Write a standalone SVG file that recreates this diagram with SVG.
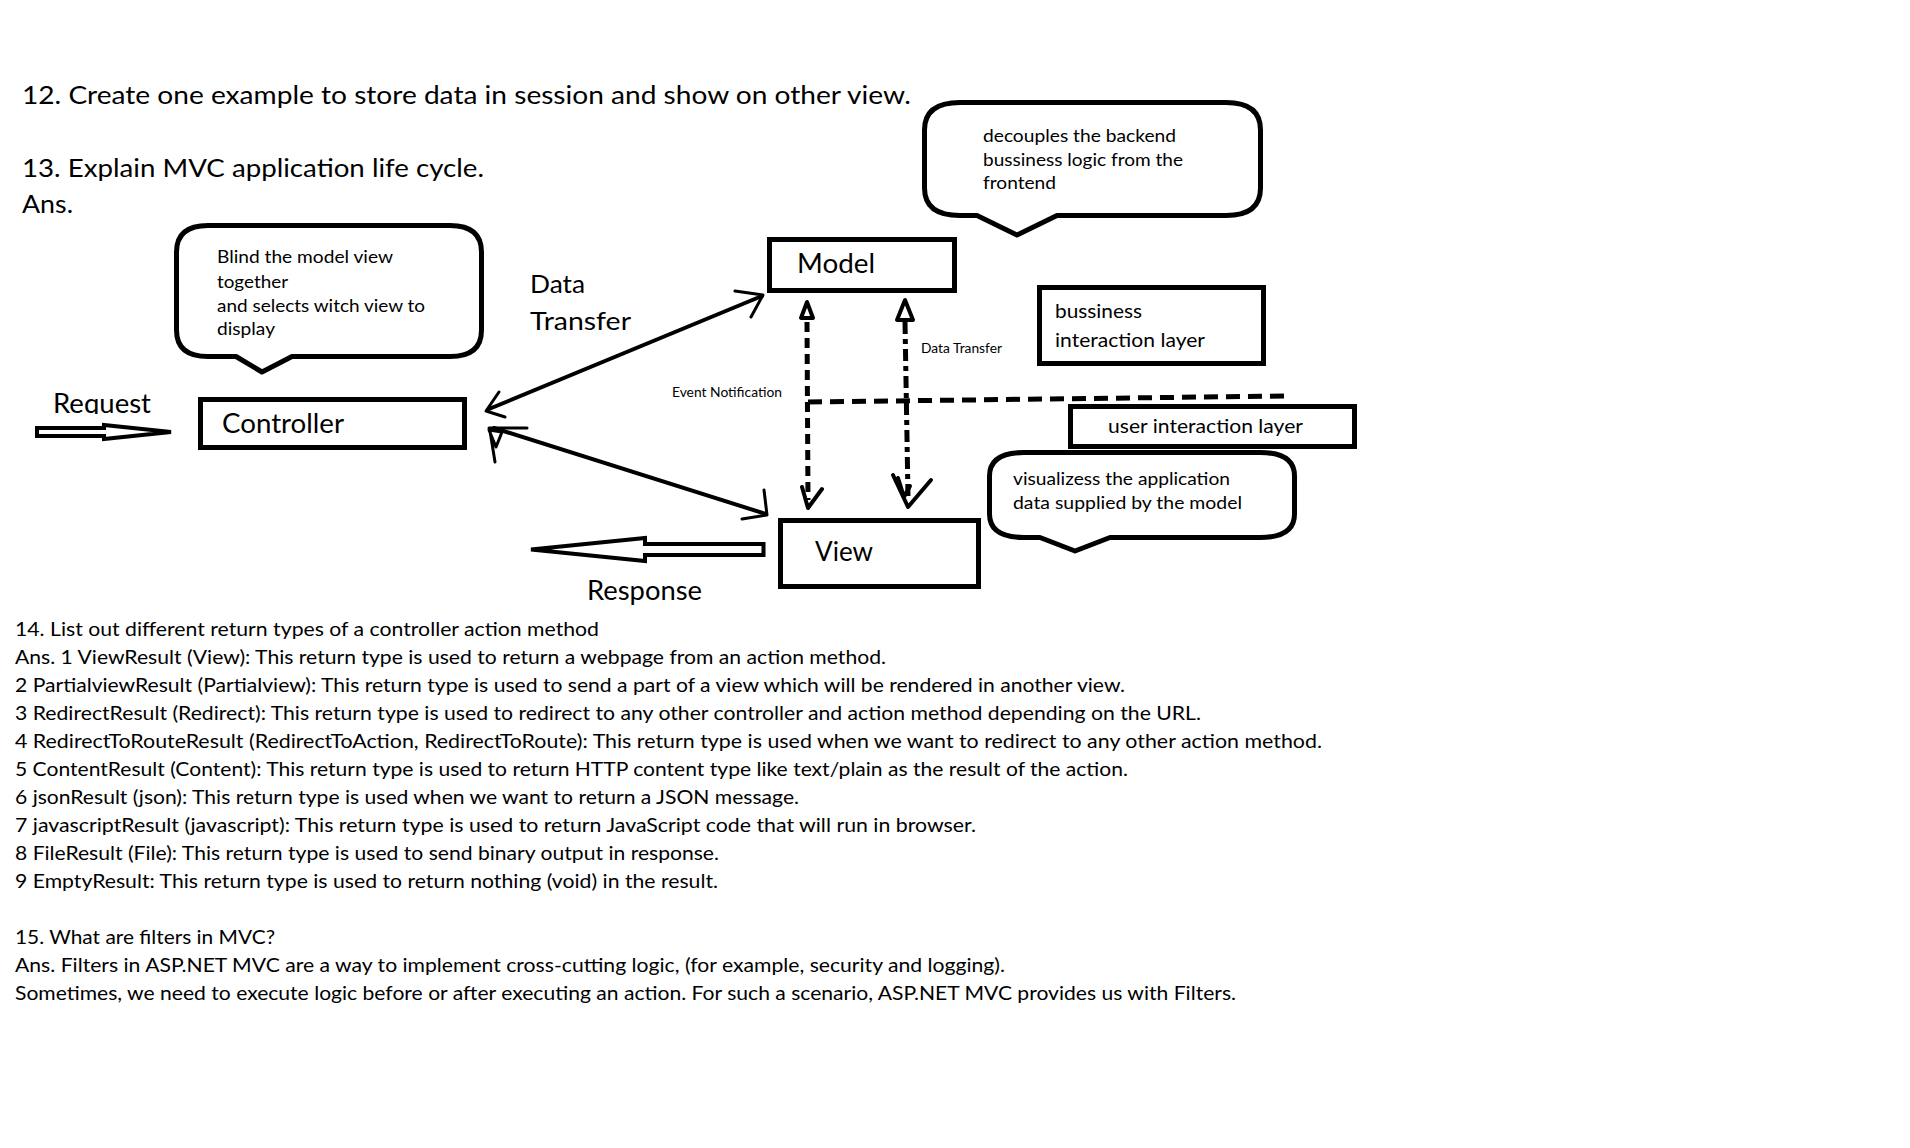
<svg xmlns="http://www.w3.org/2000/svg" width="1910" height="1148" viewBox="0 0 1910 1148">
  <defs>
    <style>
      .t { font-family: Lato, "Open Sans", "Liberation Sans", sans-serif; fill: #000; }
      .h { font-size: 25.5px; }
      .body { font-size: 20px; }
      .note { font-size: 16.5px; }
      .lbl { font-size: 26px; }
      .layer { font-size: 20px; }
      .small { font-size: 12.5px; }
      .box { fill: #fff; stroke: #000; stroke-width: 5; }
      .bubble { fill: #fff; stroke: #000; stroke-width: 5; stroke-linejoin: round; }
      .ln { fill: none; stroke: #000; stroke-width: 4; stroke-linecap: round; stroke-linejoin: round; }
      .thin { fill: none; stroke: #000; stroke-width: 3; stroke-linecap: round; stroke-linejoin: round; }
      .block { fill: #fff; stroke: #000; stroke-width: 4; stroke-linejoin: miter; }
      .dash { fill: none; stroke: #000; stroke-width: 5; }
    </style>
    <clipPath id="reqClip">
      <rect x="40" y="390" width="130" height="24"/>
    </clipPath>
  </defs>

  <rect width="1910" height="1148" fill="#fff"/>

  <!-- questions heading -->
  <g id="questions">
    <text class="t h" x="22" y="104" textLength="889" lengthAdjust="spacingAndGlyphs">12. Create one example to store data in session and show on other view.</text>
    <text class="t h" x="22" y="177" textLength="462" lengthAdjust="spacingAndGlyphs">13. Explain MVC application life cycle.</text>
    <text class="t h" x="22" y="213" textLength="51" lengthAdjust="spacingAndGlyphs">Ans.</text>
  </g>

  <!-- callout notes -->
  <g id="note-controller">
    <path class="bubble" d="M208,225.5 H450 Q481.5,225.5 481.5,252 V330 Q481.5,356.5 450,356.5 H292 L262,372 L236,356.5 H208 Q176.5,356.5 176.5,330 V252 Q176.5,225.5 208,225.5 Z"/>
    <text class="t note" x="217" y="263" textLength="176" lengthAdjust="spacingAndGlyphs">Blind the model view</text>
    <text class="t note" x="217" y="288" textLength="71" lengthAdjust="spacingAndGlyphs">together</text>
    <text class="t note" x="217" y="312" textLength="208" lengthAdjust="spacingAndGlyphs">and selects witch view to</text>
    <text class="t note" x="217" y="335" textLength="58" lengthAdjust="spacingAndGlyphs">display</text>
  </g>

  <g id="note-model">
    <path class="bubble" d="M960,102.5 H1226 Q1260.5,102.5 1260.5,130 V188 Q1260.5,215.5 1226,215.5 H1057 L1017,235 L977,215.5 H960 Q924.5,215.5 924.5,188 V130 Q924.5,102.5 960,102.5 Z"/>
    <text class="t note" x="983" y="142" textLength="193" lengthAdjust="spacingAndGlyphs">decouples the backend</text>
    <text class="t note" x="983" y="166" textLength="200" lengthAdjust="spacingAndGlyphs">bussiness logic from the</text>
    <text class="t note" x="983" y="189" textLength="73" lengthAdjust="spacingAndGlyphs">frontend</text>
  </g>

  <g id="note-view">
    <path class="bubble" d="M1024,452.5 H1260 Q1294.5,452.5 1294.5,476 V514 Q1294.5,537.5 1260,537.5 H1110 L1075,551 L1040,537.5 H1024 Q989.5,537.5 989.5,514 V476 Q989.5,452.5 1024,452.5 Z"/>
    <text class="t note" x="1013" y="485" textLength="217" lengthAdjust="spacingAndGlyphs">visualizess the application</text>
    <text class="t note" x="1013" y="509" textLength="229" lengthAdjust="spacingAndGlyphs">data supplied by the model</text>
  </g>

  <!-- MVC nodes -->
  <g id="controller">
    <rect class="box" x="200.5" y="399.5" width="264" height="48"/>
    <text class="t lbl" x="222" y="433" textLength="122" lengthAdjust="spacingAndGlyphs">Controller</text>
  </g>

  <g id="model">
    <rect class="box" x="769.5" y="239.5" width="185" height="51"/>
    <text class="t lbl" x="797" y="273" textLength="78" lengthAdjust="spacingAndGlyphs">Model</text>
  </g>

  <g id="view">
    <rect class="box" x="780.5" y="520.5" width="198" height="66"/>
    <text class="t lbl" x="815" y="561" textLength="58" lengthAdjust="spacingAndGlyphs">View</text>
  </g>

  <g id="business-layer">
    <rect class="box" x="1039.5" y="287.5" width="224" height="76"/>
    <text class="t layer" x="1055" y="318" textLength="87" lengthAdjust="spacingAndGlyphs">bussiness</text>
    <text class="t layer" x="1055" y="347" textLength="150" lengthAdjust="spacingAndGlyphs">interaction layer</text>
  </g>

  <g id="user-layer">
    <rect class="box" x="1070.5" y="406.5" width="284" height="40"/>
    <text class="t layer" x="1108" y="433" textLength="195" lengthAdjust="spacingAndGlyphs">user interaction layer</text>
  </g>

  <!-- request / response labels -->
  <g id="labels">
    <text class="t lbl" x="53" y="413" textLength="98" lengthAdjust="spacingAndGlyphs" font-size="24" clip-path="url(#reqClip)">Request</text>
    <text class="t lbl" x="587" y="600" textLength="115" lengthAdjust="spacingAndGlyphs" font-size="25">Response</text>
    <text class="t h" x="530" y="293" textLength="55" lengthAdjust="spacingAndGlyphs">Data</text>
    <text class="t h" x="530" y="330" textLength="101" lengthAdjust="spacingAndGlyphs">Transfer</text>
    <text class="t small" x="672" y="397" textLength="110" lengthAdjust="spacingAndGlyphs">Event Notification</text>
    <text class="t small" x="921" y="353" textLength="81" lengthAdjust="spacingAndGlyphs">Data Transfer</text>
  </g>

  <!-- connectors -->
  <g id="connectors">
    <!-- request block arrow into the controller -->
    <path class="block" stroke-width="4" d="M37,428 H104 V425 L171,432 L104,439 V436 H37 Z"/>
    <!-- response block arrow out of the view -->
    <path class="block" stroke-width="4.5" d="M763.5,544 H645 V538 L531,549.5 L645,561 V555 H763.5 Z"/>

    <!-- controller <-> model -->
    <path class="ln" d="M489,409 L762,296"/>
    <path class="thin" d="M499,392 L486,411 L505,417"/>
    <path class="thin" d="M735,291 L763,295 L751,317"/>

    <!-- controller <-> view -->
    <path class="ln" d="M494,428 L766,514"/>
    <path class="thin" d="M489,428 L527,428"/>
    <path class="thin" d="M489,430 L502,432 L496,447 Z M490,431 L495,462"/>
    <path class="thin" d="M764,490 L767,515 L742,519"/>

    <!-- event notification (model <-> view) -->
    <path class="dash" stroke-dasharray="10 6" d="M807,322 L808,500"/>
    <path class="ln" d="M807,302 L801,318 L813,318 Z" stroke-width="5"/>
    <path class="ln" d="M802,487 L808,508 L822,489"/>

    <!-- data transfer (model <-> view) -->
    <path class="dash" stroke-dasharray="12 5 5 5" d="M905,322 L908,496"/>
    <path class="ln" d="M905,300 L897,320 L913,320 Z" stroke-width="5"/>
    <path class="ln" d="M893,475 L908,507 L931,480 M898,478 L904,497 L910,486"/>

    <!-- layer boundary -->
    <path class="dash" stroke-dasharray="14 8" stroke-width="4.5" d="M808,402 L1285,396"/>
  </g>

  <!-- return types and filters -->
  <g id="answers">
    <text class="t body" x="15" y="636" textLength="584" lengthAdjust="spacingAndGlyphs">14. List out different return types of a controller action method</text>
    <text class="t body" x="15" y="664" textLength="871" lengthAdjust="spacingAndGlyphs">Ans. 1 ViewResult (View): This return type is used to return a webpage from an action method.</text>
    <text class="t body" x="15" y="692" textLength="1110" lengthAdjust="spacingAndGlyphs">2 PartialviewResult (Partialview): This return type is used to send a part of a view which will be rendered in another view.</text>
    <text class="t body" x="15" y="720" textLength="1186" lengthAdjust="spacingAndGlyphs">3 RedirectResult (Redirect): This return type is used to redirect to any other controller and action method depending on the URL.</text>
    <text class="t body" x="15" y="748" textLength="1307" lengthAdjust="spacingAndGlyphs">4 RedirectToRouteResult (RedirectToAction, RedirectToRoute): This return type is used when we want to redirect to any other action method.</text>
    <text class="t body" x="15" y="776" textLength="1113" lengthAdjust="spacingAndGlyphs">5 ContentResult (Content): This return type is used to return HTTP content type like text/plain as the result of the action.</text>
    <text class="t body" x="15" y="804" textLength="784" lengthAdjust="spacingAndGlyphs">6 jsonResult (json): This return type is used when we want to return a JSON message.</text>
    <text class="t body" x="15" y="832" textLength="961" lengthAdjust="spacingAndGlyphs">7 javascriptResult (javascript): This return type is used to return JavaScript code that will run in browser.</text>
    <text class="t body" x="15" y="860" textLength="704" lengthAdjust="spacingAndGlyphs">8 FileResult (File): This return type is used to send binary output in response.</text>
    <text class="t body" x="15" y="888" textLength="703" lengthAdjust="spacingAndGlyphs">9 EmptyResult: This return type is used to return nothing (void) in the result.</text>
    <text class="t body" x="15" y="944" textLength="260" lengthAdjust="spacingAndGlyphs">15. What are filters in MVC?</text>
    <text class="t body" x="15" y="972" textLength="990" lengthAdjust="spacingAndGlyphs">Ans. Filters in ASP.NET MVC are a way to implement cross-cutting logic, (for example, security and logging).</text>
    <text class="t body" x="15" y="1000" textLength="1221" lengthAdjust="spacingAndGlyphs">Sometimes, we need to execute logic before or after executing an action. For such a scenario, ASP.NET MVC provides us with Filters.</text>
  </g>
</svg>
